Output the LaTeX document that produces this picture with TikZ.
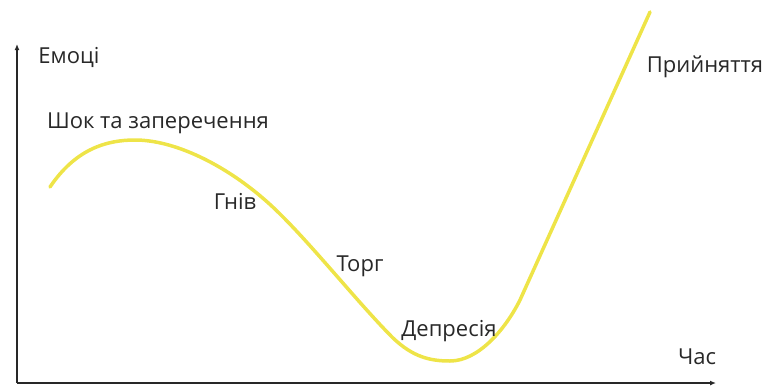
\documentclass[tikz,border=0pt]{standalone}
\usepackage{fontspec}
\setmainfont{Open Sans}
\usetikzlibrary{arrows.meta}
\definecolor{curveyellow}{RGB}{238,228,72}
\definecolor{axisgray}{RGB}{40,40,40}

\begin{document}
\begin{tikzpicture}[x=1pt,y=-1pt,lbl/.style={inner sep=0pt,text=axisgray,font=\fontsize{22}{26}\selectfont}]
\useasboundingbox (0,0) rectangle (765,388);
\coordinate (o) at (17,383);\coordinate (ytop) at (17,44);\coordinate (xend) at (716,383);
\draw[axisgray,line width=2pt,-{Latex[length=6pt,width=5pt]}] (o)--(ytop);
\draw[axisgray,line width=2pt,-{Latex[length=6pt,width=5pt]}] (o)--(xend);
\draw[curveyellow,line width=3.5pt,line cap=round] (50,187) .. controls (75,150) and (105,140) .. (135,140) .. controls (175,140) and (225,165) .. (265,200) .. controls (302,232) and (355,300) .. (393,338) .. controls (413,357) and (430,361) .. (450,361) .. controls (478,361) and (505,330) .. (520,300) -- (650,12);
\node[lbl] (emotions) at (69,57) {Емоці};
\node[lbl] (time) at (697,357) {Час};
\node[lbl] (shock) at (158,123) {Шок та заперечення};
\node[lbl] (anger) at (235,201) {Гнів};
\node[lbl] (bargain) at (360,266) {Торг};
\node[lbl] (depression) at (449,331) {Депресія};
\node[lbl] (acceptance) at (705,67) {Прийняття};
\end{tikzpicture}
\end{document}
